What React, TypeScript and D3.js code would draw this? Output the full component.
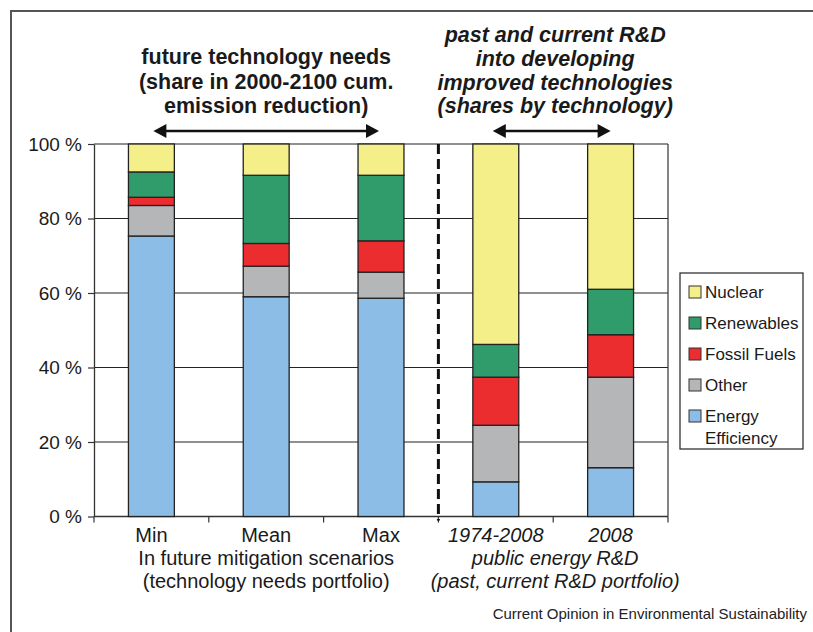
import React, { useEffect, useRef } from "react";
import * as d3 from "d3";

const categories = ["Min", "Mean", "Max", "1974-2008", "2008"];
const italicCats = ["1974-2008", "2008"];
const keys = ["Energy Efficiency", "Other", "Fossil Fuels", "Renewables", "Nuclear"];

// shares (%) per category, bottom to top
const energyEfficiency = [75.3, 59.0, 58.6, 9.3, 13.1];
const other = [8.2, 8.2, 7.0, 15.2, 24.3];
const fossilFuels = [2.2, 6.1, 8.4, 12.9, 11.4];
const renewables = [6.8, 18.3, 17.6, 8.8, 12.2];
const nuclear = [7.5, 8.4, 8.4, 53.8, 39.0];

const yTicks = [0, 20, 40, 60, 80, 100];

const colors = {
  "Nuclear": "#f4ef88",
  "Renewables": "#309b6b",
  "Fossil Fuels": "#ec2d30",
  "Other": "#b5b6b8",
  "Energy Efficiency": "#8bbde6",
};

const legendItems = ["Nuclear", "Renewables", "Fossil Fuels", "Other", "Energy Efficiency"];

const FONT = "'Liberation Sans', Arial, Helvetica, sans-serif";

export default function App() {
  const svgRef = useRef<SVGSVGElement>(null);
  const width = 813;
  const height = 632;

  useEffect(() => {
    const svg = d3.select(svgRef.current);
    svg.selectAll("*").remove();

    const left = 94, right = 668, top = 144, bottom = 516.5;

    const rows = categories.map((c, i) => ({
      cat: c,
      "Energy Efficiency": energyEfficiency[i],
      "Other": other[i],
      "Fossil Fuels": fossilFuels[i],
      "Renewables": renewables[i],
      "Nuclear": nuclear[i],
    }));

    const x = d3.scaleBand().domain(categories).range([left, right]).paddingInner(0.6).paddingOuter(0.3);
    const y = d3.scaleLinear().domain([0, 100]).range([bottom, top]);
    const step = x.step();

    // frame
    svg.append("path")
      .attr("d", `M11,${height} L11,11 L${width},11`)
      .attr("fill", "none").attr("stroke", "#555").attr("stroke-width", 2);

    // grid
    svg.append("g").selectAll("line").data(yTicks.filter((d) => d > 0)).join("line")
      .attr("x1", left).attr("x2", right)
      .attr("y1", (d) => y(d)).attr("y2", (d) => y(d))
      .attr("stroke", "#222").attr("stroke-width", 1.2);
    svg.append("line")
      .attr("x1", right).attr("x2", right).attr("y1", top).attr("y2", bottom)
      .attr("stroke", "#333").attr("stroke-width", 1.2);

    // y axis
    svg.append("g")
      .attr("transform", `translate(${left},0)`)
      .call(d3.axisLeft(y).tickValues(yTicks).tickSize(6).tickSizeOuter(0).tickPadding(6).tickFormat((d) => `${d} %`))
      .call((g) => g.select(".domain").attr("stroke", "#333").attr("stroke-width", 1.3))
      .call((g) => g.selectAll(".tick line").attr("stroke", "#333").attr("stroke-width", 1.2))
      .call((g) => g.selectAll(".tick text").attr("font-family", FONT).attr("font-size", 19).attr("fill", "#1a1a1a"));

    // x axis line and boundary ticks
    svg.append("line")
      .attr("x1", left).attr("x2", right).attr("y1", bottom).attr("y2", bottom)
      .attr("stroke", "#333").attr("stroke-width", 1.3);
    svg.append("g").selectAll("line").data(d3.range(categories.length + 1)).join("line")
      .attr("x1", (i) => left + i * step).attr("x2", (i) => left + i * step)
      .attr("y1", bottom).attr("y2", bottom + 6)
      .attr("stroke", "#333").attr("stroke-width", 1.2);

    // stacked bars
    const series = d3.stack().keys(keys)(rows as any);
    svg.append("g").selectAll("g").data(series).join("g")
      .attr("fill", (s) => colors[s.key])
      .selectAll("rect").data((s) => s).join("rect")
      .attr("x", (d: any) => x(d.data.cat))
      .attr("width", x.bandwidth())
      .attr("y", (d) => y(d[1]))
      .attr("height", (d) => y(d[0]) - y(d[1]))
      .attr("stroke", "#222").attr("stroke-width", 1.3);

    // dashed separator between scenario and R&D groups
    const sep = left + 3 * step;
    svg.append("line")
      .attr("x1", sep).attr("x2", sep).attr("y1", top).attr("y2", bottom + 4)
      .attr("stroke", "#111").attr("stroke-width", 3).attr("stroke-dasharray", "10,5");

    // category labels
    svg.append("g").selectAll("text").data(categories).join("text")
      .attr("x", (d) => x(d) + x.bandwidth() / 2)
      .attr("y", 542)
      .attr("text-anchor", "middle")
      .attr("font-family", FONT).attr("font-size", 20).attr("fill", "#1a1a1a")
      .attr("font-style", (d) => (italicCats.includes(d) ? "italic" : "normal"))
      .text((d) => d);

    const leftCenter = left + 1.5 * step;
    const rightCenter = left + 4 * step + 2;

    const textLines = (lines, cx, ys, opts) => {
      svg.append("g").selectAll("text").data(lines).join("text")
        .attr("x", cx).attr("y", (_, i) => ys[i])
        .attr("text-anchor", "middle")
        .attr("font-family", FONT)
        .attr("font-size", opts.size)
        .attr("font-weight", opts.weight || "normal")
        .attr("font-style", opts.style || "normal")
        .attr("fill", "#1a1a1a")
        .text((d) => d);
    };

    textLines(["In future mitigation scenarios", "(technology needs portfolio)"], leftCenter, [565, 588], { size: 20 });
    textLines(["public energy R&D", "(past, current R&D portfolio)"], rightCenter, [565, 588], { size: 20, style: "italic" });

    textLines(["future technology needs", "(share in 2000-2100 cum.", "emission reduction)"], leftCenter, [64, 89, 113], { size: 21.5, weight: "bold" });
    textLines(["past and current R&D", "into developing", "improved technologies", "(shares by technology)"], rightCenter, [42, 66, 90, 113], { size: 21.5, weight: "bold", style: "italic" });

    // double-headed arrows
    const arrow = (x1, x2, yy) => {
      const g = svg.append("g");
      const head = 13, half = 7;
      g.append("line").attr("x1", x1 + head - 2).attr("x2", x2 - head + 2).attr("y1", yy).attr("y2", yy)
        .attr("stroke", "#111").attr("stroke-width", 2.5);
      g.append("path").attr("d", `M${x1},${yy} L${x1 + head},${yy - half} L${x1 + head},${yy + half} Z`).attr("fill", "#111");
      g.append("path").attr("d", `M${x2},${yy} L${x2 - head},${yy - half} L${x2 - head},${yy + half} Z`).attr("fill", "#111");
    };
    arrow(x("Min") + x.bandwidth() / 2 + 2, x("Max") + x.bandwidth() / 2 - 2, 131);
    arrow(x("1974-2008") + x.bandwidth() / 2 - 3, x("2008") + x.bandwidth() / 2, 131);

    // legend
    const lg = svg.append("g");
    lg.append("rect").attr("x", 680).attr("y", 273).attr("width", 123).attr("height", 176)
      .attr("fill", "white").attr("stroke", "#333").attr("stroke-width", 1.3);
    legendItems.forEach((k, i) => {
      const cy = 292 + i * 31;
      lg.append("rect").attr("x", 689).attr("y", cy - 6).attr("width", 12).attr("height", 12)
        .attr("fill", colors[k]).attr("stroke", "#333").attr("stroke-width", 1);
      const label = k === "Energy Efficiency" ? ["Energy", "Efficiency"] : [k];
      label.forEach((t, j) => {
        lg.append("text").attr("x", 705).attr("y", cy + 6 + j * 22)
          .attr("font-family", FONT).attr("font-size", 17).attr("fill", "#1a1a1a").text(t);
      });
    });

    // source caption
    svg.append("text").attr("x", 807).attr("y", 619).attr("text-anchor", "end")
      .attr("font-family", FONT).attr("font-size", 15).attr("fill", "#222")
      .text("Current Opinion in Environmental Sustainability");
  }, []);

  return (
    <svg
      ref={svgRef}
      width={width}
      height={height}
      style={{ position: "absolute", left: 0, top: 0, background: "white" }}
    />
  );
}
